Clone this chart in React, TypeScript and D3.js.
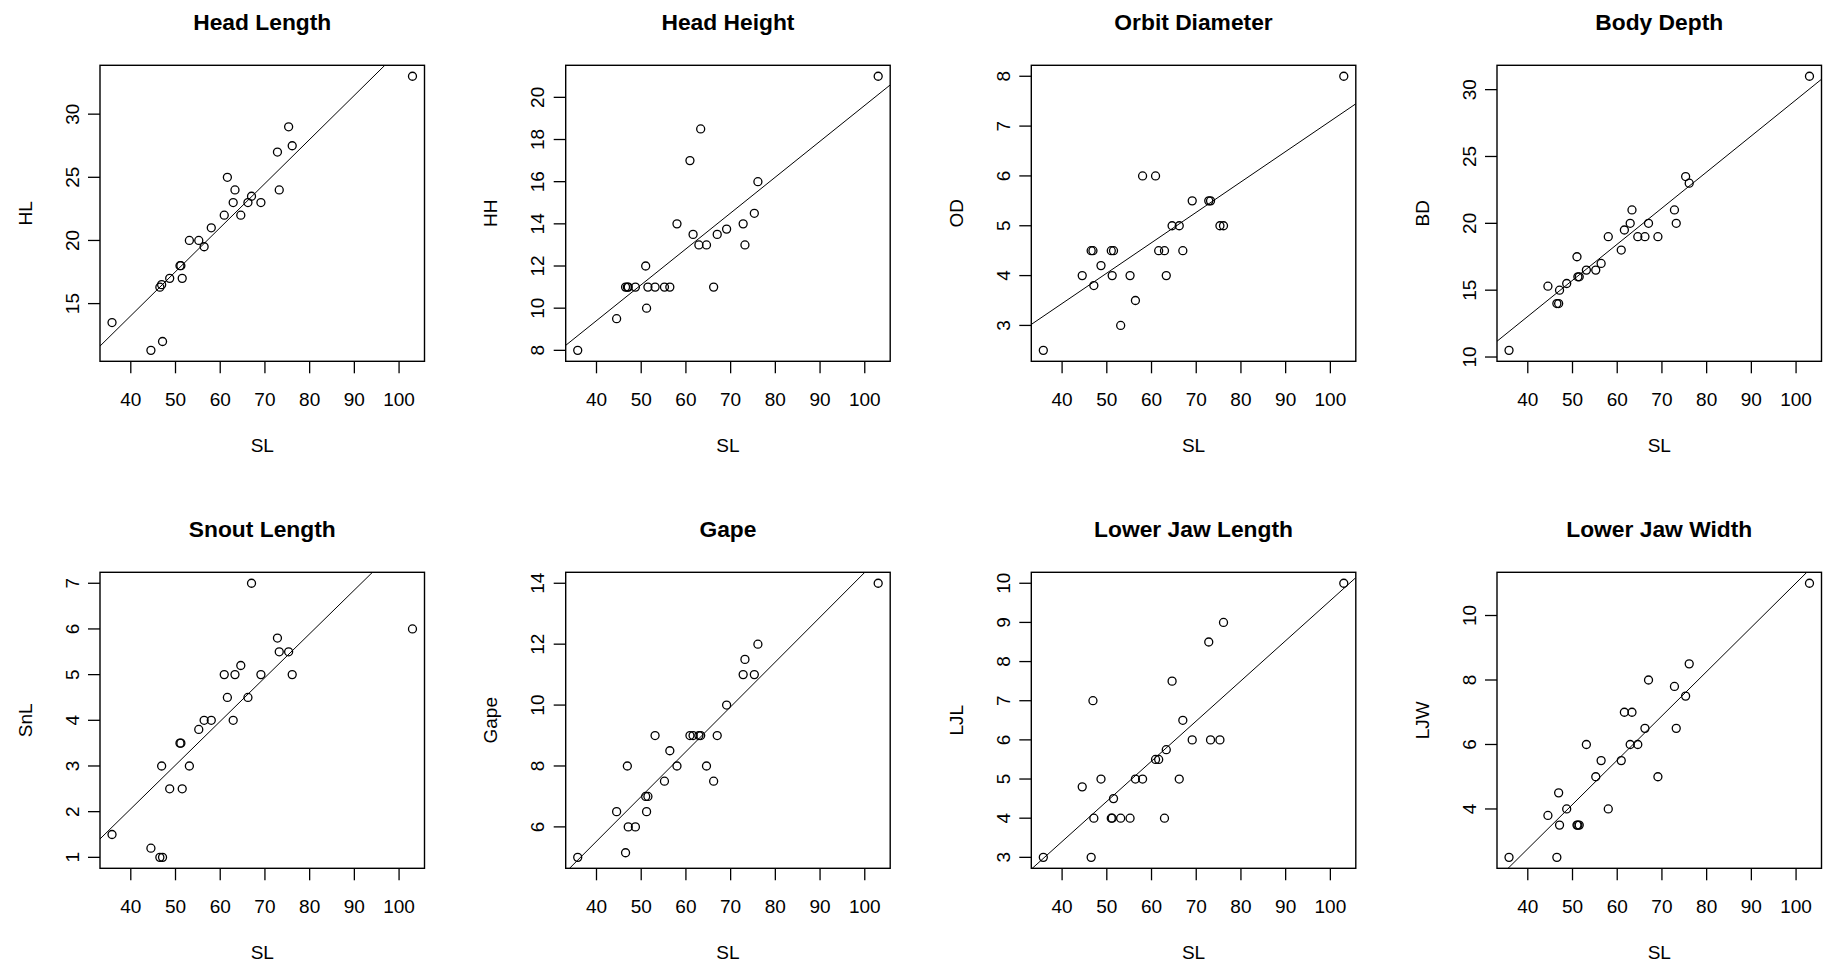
import React from 'react';
import * as d3 from 'd3';

// Standard length (SL, mm) of each specimen, shared by every panel
const SL = [35.8, 44.5, 46.5, 46.9, 47.1, 48.7, 51.0, 51.2, 51.5, 53.1, 55.2, 56.4, 58.0, 60.9, 61.6, 62.9, 63.3, 64.6, 66.2, 67.0, 69.1, 72.8, 73.2, 75.3, 76.1, 103.0];

// Morphometric measurements, same specimen order as SL
const HL = [13.5, 11.3, 16.3, 16.5, 12, 17, 18, 18, 17, 20, 20, 19.5, 21, 22, 25, 23, 24, 22, 23, 23.5, 23, 27, 24, 29, 27.5, 33];
const HH = [8, 9.5, 11, 11, 11, 11, 12, 10, 11, 11, 11, 11, 14, 17, 13.5, 13, 18.5, 13, 11, 13.5, 13.75, 14, 13, 14.5, 16, 21];
const OD = [2.5, 4, 4.5, 4.5, 3.8, 4.2, 4.5, 4, 4.5, 3, 4, 3.5, 6, 6, 4.5, 4.5, 4, 5, 5, 4.5, 5.5, 5.5, 5.5, 5, 5, 8];
const BD = [10.5, 15.3, 14, 14, 15, 15.5, 17.5, 16, 16, 16.5, 16.5, 17, 19, 18, 19.5, 20, 21, 19, 19, 20, 19, 21, 20, 23.5, 23, 31];
const SnL = [1.5, 1.2, 1, 3, 1, 2.5, 3.5, 3.5, 2.5, 3, 3.8, 4, 4, 5, 4.5, 4, 5, 5.2, 4.5, 7, 5, 5.8, 5.5, 5.5, 5, 6];
const Gape = [5, 6.5, 5.15, 8, 6, 6, 7, 6.5, 7, 9, 7.5, 8.5, 8, 9, 9, 9, 9, 8, 7.5, 9, 10, 11, 11.5, 11, 12, 14];
const LJL = [3, 4.8, 3, 7, 4, 5, 4, 4, 4.5, 4, 4, 5, 5, 5.5, 5.5, 4, 5.75, 7.5, 5, 6.5, 6, 8.5, 6, 6, 9, 10];
const LJW = [2.5, 3.8, 2.5, 4.5, 3.5, 4, 3.5, 3.5, 3.5, 6, 5, 5.5, 4, 5.5, 7, 6, 7, 6, 6.5, 8, 5, 7.8, 6.5, 7.5, 8.5, 11];

const titles = ['Head Length', 'Head Height', 'Orbit Diameter', 'Body Depth', 'Snout Length', 'Gape', 'Lower Jaw Length', 'Lower Jaw Width'];
const yNames = ['HL', 'HH', 'OD', 'BD', 'SnL', 'Gape', 'LJL', 'LJW'];
const measures = [HL, HH, OD, BD, SnL, Gape, LJL, LJW];

// Fitted line coefficients (intercept, slope) for each measurement against SL
const intercepts = [0.08, 2.60, 1.00, 2.24, -1.77, -0.361, -0.70, -2.73];
const slopes = [0.349, 0.1702, 0.0610, 0.270, 0.0958, 0.1472, 0.1026, 0.1374];

// Axis tick values
const xTicks = [40, 50, 60, 70, 80, 90, 100];
const yTicks = [
  [15, 20, 25, 30],
  [8, 10, 12, 14, 16, 18, 20],
  [3, 4, 5, 6, 7, 8],
  [10, 15, 20, 25, 30],
  [1, 2, 3, 4, 5, 6, 7],
  [6, 8, 10, 12, 14],
  [3, 4, 5, 6, 7, 8, 9, 10],
  [4, 6, 8, 10],
];

const W = 1825;
const H = 964;
const colLeft = [100, 565.7, 1031.3, 1497];
const rowTop = [65.3, 572.3];
const boxW = 324.5;
const boxH = 296;
const FONT = '"Liberation Sans", Arial, sans-serif';

// R-style axis range: data extent widened by 4% on each side
function padded(values: number[]): [number, number] {
  const [lo, hi] = d3.extent(values) as [number, number];
  const pad = (hi - lo) * 0.04;
  return [lo - pad, hi + pad];
}

function Panel({ idx }: { idx: number }) {
  const left = colLeft[idx % 4];
  const top = rowTop[Math.floor(idx / 4)];
  const right = left + boxW;
  const bottom = top + boxH;
  const ys = measures[idx];

  const x = d3.scaleLinear().domain(padded(SL)).range([left, right]);
  const y = d3.scaleLinear().domain(padded(ys)).range([bottom, top]);

  const [x0, x1] = x.domain();
  const fit = d3.line<number>()
    .x((v) => x(v))
    .y((v) => y(intercepts[idx] + slopes[idx] * v));

  const clipId = `clip-${idx}`;
  const cx = (left + right) / 2;
  const cy = (top + bottom) / 2;

  return (
    <g>
      <defs>
        <clipPath id={clipId}>
          <rect x={left} y={top} width={boxW} height={boxH} />
        </clipPath>
      </defs>
      <text x={cx} y={top - 35.8} textAnchor="middle" fontFamily={FONT} fontWeight="bold" fontSize={22.8} fill="#000">
        {titles[idx]}
      </text>
      <path d={fit([x0, x1]) ?? ''} stroke="#000" strokeWidth={1} fill="none" clipPath={`url(#${clipId})`} />
      {SL.map((s, i) => (
        <circle key={i} cx={x(s)} cy={y(ys[i])} r={4} fill="none" stroke="#000" strokeWidth={1.3} />
      ))}
      <rect x={left} y={top} width={boxW} height={boxH} fill="none" stroke="#000" strokeWidth={1.4} />
      {xTicks.map((t) => (
        <g key={`x${t}`}>
          <line x1={x(t)} x2={x(t)} y1={bottom} y2={bottom + 12} stroke="#000" strokeWidth={1.3} />
          <text x={x(t)} y={bottom + 45} textAnchor="middle" fontFamily={FONT} fontSize={19} fill="#000">{t}</text>
        </g>
      ))}
      {yTicks[idx].map((t) => (
        <g key={`y${t}`}>
          <line x1={left - 12} x2={left} y1={y(t)} y2={y(t)} stroke="#000" strokeWidth={1.3} />
          <text transform={`translate(${left - 21.5},${y(t)}) rotate(-90)`} textAnchor="middle" fontFamily={FONT} fontSize={19} fill="#000">{t}</text>
        </g>
      ))}
      <text x={cx} y={bottom + 90.5} textAnchor="middle" fontFamily={FONT} fontSize={19} fill="#000">SL</text>
      <text transform={`translate(${left - 68.5},${cy}) rotate(-90)`} textAnchor="middle" fontFamily={FONT} fontSize={19} fill="#000">
        {yNames[idx]}
      </text>
    </g>
  );
}

export default function App() {
  return (
    <svg
      width={W}
      height={H}
      viewBox={`0 0 ${W} ${H}`}
      style={{ position: 'absolute', left: 0, top: 0, background: '#fff' }}
    >
      <rect x={0} y={0} width={W} height={H} fill="#fff" />
      {titles.map((_, i) => (
        <Panel key={i} idx={i} />
      ))}
    </svg>
  );
}
